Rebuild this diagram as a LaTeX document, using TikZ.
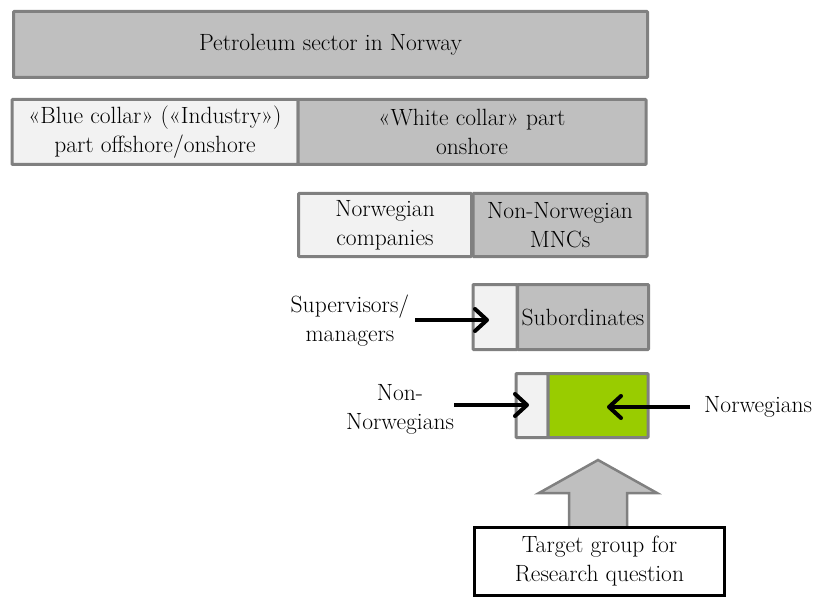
\documentclass[tikz,border=0pt]{standalone}
\usetikzlibrary{arrows.meta}
\definecolor{boxgray}{HTML}{BFBFBF}
\definecolor{boxlight}{HTML}{F2F2F2}
\definecolor{edgegray}{HTML}{808080}
\definecolor{target}{HTML}{99CC00}
\begin{document}
\begin{tikzpicture}[x=1pt,y=-1pt,
  font=\fontsize{23.5}{29}\selectfont,
  part/.style={draw=edgegray,line width=3pt,inner sep=0pt,align=center,
    rounded corners=0.8pt},
  dark/.style={part,fill=boxgray},
  light/.style={part,fill=boxlight},
  green/.style={part,fill=target},
  label/.style={align=center,inner sep=0pt},
  pointer/.style={line width=4pt,-{Straight Barb[length=12pt,width=22pt,line cap=round,line join=round]}},
  bigarrow/.style={draw=edgegray,fill=boxgray,line width=2.5pt,line join=miter}
]
\useasboundingbox (0,0) rectangle (817,599);

% sector
\node[dark,minimum width=634,minimum height=66] (sector) at (330.5,44.5) {Petroleum sector in Norway};

% blue / white collar
\node[light,minimum width=286,minimum height=65] (blue) at (155,132)
  {«Blue collar» («Industry»)\\part offshore/onshore};
\node[dark,minimum width=348,minimum height=65] (white) at (472,132)
  {«White collar» part\\onshore};

% companies
\node[light,minimum width=173,minimum height=63] (nor) at (385,225) {Norwegian\\companies};
\node[dark,minimum width=174,minimum height=63] (mnc) at (560,225) {Non-Norwegian\\MNCs};

% roles
\node[light,minimum width=44,minimum height=65] (sup) at (495,317) {};
\node[dark,minimum width=131,minimum height=65] (sub) at (583,317) {Subordinates};

% nationality
\node[light,minimum width=32,minimum height=64] (nonnor) at (532,405.5) {};
\node[green,minimum width=100,minimum height=64] (norw) at (598,405.5) {};

% outside labels
\node[label] (suplbl) at (350,321) {Supervisors/\\managers};
\node[label] (nonlbl) at (400,409) {Non-\\Norwegians};
\node[label,anchor=west] (norlbl) at (704,407) {Norwegians};

\coordinate (suptail) at (415,320);
\coordinate (suptip) at (489,320);
\coordinate (nontail) at (454,405);
\coordinate (nontip) at (529,405);
\coordinate (nortail) at (690,407);
\coordinate (nortip) at (607,407);
\draw[pointer] (suptail) -- (suptip);
\draw[pointer] (nontail) -- (nontip);
\draw[pointer] (nortail) -- (nortip);

% upward block arrow to the target group
\draw[bigarrow] (569,530) -- (569,493) -- (539,493) -- (598,460) -- (657,493)
  -- (627,493) -- (627,530) -- cycle;

\node[draw=black,fill=white,line width=3pt,minimum width=250,minimum height=68,
  inner sep=0pt,align=center] (goal) at (599.5,561.5)
  {Target group for\\Research question};
\end{tikzpicture}
\end{document}
